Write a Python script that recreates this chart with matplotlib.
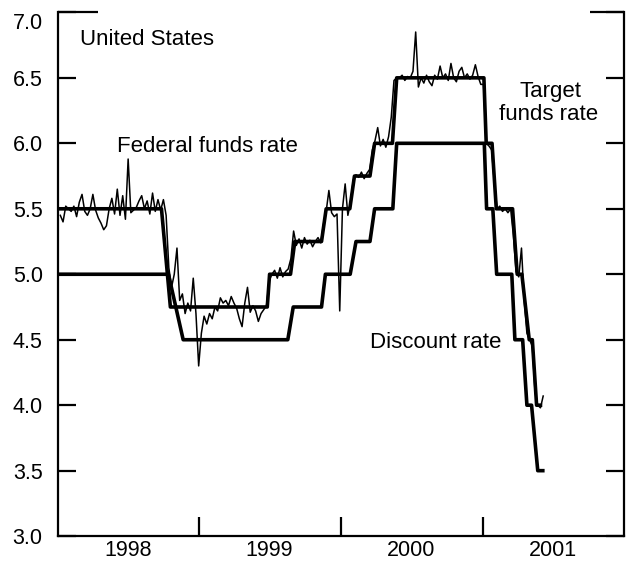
import matplotlib
matplotlib.use("Agg")
import matplotlib.pyplot as plt
import matplotlib.transforms as mtrans
import pandas as pd

plt.rcParams['font.family'] = ['Liberation Sans', 'DejaVu Sans']

# target funds rate, corner points
target_dates = ['1998-01-01', '1998-09-25', '1998-10-18', '1999-06-25', '1999-07-01',
                '1999-08-24', '1999-09-04', '1999-11-12', '1999-11-24', '2000-01-24',
                '2000-02-05', '2000-03-16', '2000-03-28', '2000-05-13', '2000-05-24',
                '2001-01-04', '2001-01-10', '2001-01-25', '2001-02-05', '2001-03-19',
                '2001-03-31', '2001-04-12', '2001-05-01', '2001-05-09', '2001-05-20',
                '2001-05-30']
target_vals = [5.5, 5.5, 4.75, 4.75, 5.0,
               5.0, 5.25, 5.25, 5.5, 5.5,
               5.75, 5.75, 6.0, 6.0, 6.5,
               6.5, 6.0, 6.0, 5.5, 5.5,
               5.0, 5.0, 4.5, 4.5, 4.0,
               4.0]

# discount rate, corner points
disc_dates = ['1998-01-01', '1998-10-13', '1998-11-20', '1999-08-17', '1999-08-31',
              '1999-11-12', '1999-11-22', '2000-01-25', '2000-02-09', '2000-03-16',
              '2000-03-28', '2000-05-14', '2000-05-24', '2001-01-05', '2001-01-11',
              '2001-01-27', '2001-02-06', '2001-03-17', '2001-03-25', '2001-04-14',
              '2001-04-25', '2001-05-07', '2001-05-23', '2001-06-05']
disc_vals = [5.0, 5.0, 4.5, 4.5, 4.75,
             4.75, 5.0, 5.0, 5.25, 5.25,
             5.5, 5.5, 6.0, 6.0, 5.5,
             5.5, 5.0, 5.0, 4.5, 4.5,
             4.0, 4.0, 3.5, 3.5]

# effective federal funds rate, weekly
ff_1998 = [5.45, 5.40, 5.52, 5.50, 5.48, 5.52, 5.44, 5.55, 5.61, 5.48,
           5.45, 5.50, 5.61, 5.49, 5.43, 5.39, 5.34, 5.37, 5.50, 5.58,
           5.46, 5.65, 5.45, 5.60, 5.42, 5.88, 5.47, 5.49, 5.51, 5.56,
           5.60, 5.50, 5.56, 5.46, 5.62, 5.48, 5.57, 5.49, 5.57, 5.45,
           5.05, 4.90, 5.00, 5.20, 4.80, 4.85, 4.70, 4.78, 4.72, 4.97,
           4.70, 4.30]
ff_1999 = [4.55, 4.68, 4.62, 4.70, 4.66, 4.75, 4.72, 4.82, 4.78, 4.80,
           4.76, 4.83, 4.78, 4.74, 4.66, 4.60, 4.78, 4.90, 4.71, 4.76,
           4.72, 4.64, 4.70, 4.73, 4.76, 4.95, 5.00, 5.03, 4.97, 5.05,
           4.98, 5.02, 5.04, 5.12, 5.33, 5.22, 5.27, 5.20, 5.28, 5.23,
           5.26, 5.21, 5.25, 5.28, 5.24, 5.38, 5.48, 5.64, 5.47, 5.44,
           5.46, 4.72]
ff_2000 = [5.50, 5.69, 5.45, 5.55, 5.72, 5.76, 5.74, 5.78, 5.73, 5.77,
           5.80, 5.95, 6.02, 6.12, 5.98, 6.03, 5.97, 6.05, 6.20, 6.48,
           6.50, 6.50, 6.52, 6.48, 6.51, 6.50, 6.55, 6.85, 6.43, 6.50,
           6.46, 6.52, 6.47, 6.44, 6.52, 6.49, 6.59, 6.50, 6.53, 6.48,
           6.61, 6.50, 6.47, 6.55, 6.58, 6.50, 6.53, 6.49, 6.52, 6.60,
           6.51, 6.45]
ff_2001 = [6.45, 6.00, 5.98, 5.95, 5.70, 5.50, 5.52, 5.48, 5.50, 5.47,
           5.50, 5.30, 5.02, 4.98, 5.20, 4.80, 4.55, 4.50, 4.45, 4.10,
           4.00, 3.98, 4.07]
ff_vals = ff_1998 + ff_1999 + ff_2000 + ff_2001
ff_dates = pd.date_range('1998-01-07', periods=len(ff_vals), freq='7D')

fig = plt.figure(figsize=(6.27, 5.62), dpi=100)
ax = fig.add_axes([0.0925, 0.046, 0.903, 0.932])

ax.plot(pd.to_datetime(disc_dates), disc_vals, color='black', lw=2.6,
        solid_joinstyle='round')
ax.plot(pd.to_datetime(target_dates), target_vals, color='black', lw=2.6,
        solid_joinstyle='round')
ax.plot(ff_dates, ff_vals, color='black', lw=1.1)

ax.set_xlim(pd.Timestamp('1998-01-01'), pd.Timestamp('2002-01-01'))
ax.set_ylim(3.0, 7.0)

# frame: top spine only near the corners
ax.spines['top'].set_visible(False)
for s in ['left', 'right', 'bottom']:
    ax.spines[s].set_linewidth(1.6)
ax.plot([0, 0.071], [1, 1], transform=ax.transAxes, color='black', lw=1.6,
        clip_on=False, solid_capstyle='butt')
ax.plot([0.94, 1.0], [1, 1], transform=ax.transAxes, color='black', lw=1.6,
        clip_on=False, solid_capstyle='butt')

ax.set_yticks([3.0, 3.5, 4.0, 4.5, 5.0, 5.5, 6.0, 6.5, 7.0])
ax.set_yticklabels(['3.0', '3.5', '4.0', '4.5', '5.0', '5.5', '6.0', '6.5', '7.0'])
ax.tick_params(axis='y', direction='in', length=13, width=1.6, right=True,
               labelsize=15.5, pad=11)
# top label sits a little below its tick
top_lab = ax.get_yticklabels()[-1]
top_lab.set_transform(top_lab.get_transform() +
                      mtrans.ScaledTranslation(0, -6 / 72, fig.dpi_scale_trans))

years = ['1998', '1999', '2000', '2001']
ax.set_xticks(pd.to_datetime(['1999-01-01', '2000-01-01', '2001-01-01']))
ax.set_xticklabels([])
ax.set_xticks(pd.to_datetime([y + '-07-01' for y in years]), minor=True)
ax.set_xticklabels(years, minor=True)
ax.tick_params(axis='x', which='major', direction='in', length=14, width=1.6)
ax.tick_params(axis='x', which='minor', length=0, labelsize=15.5, pad=3)

ax.text(0.039, 0.937, 'United States', transform=ax.transAxes, fontsize=16,
        va='baseline', ha='left')
ax.text(0.104, 0.733, 'Federal funds rate', transform=ax.transAxes, fontsize=16,
        va='baseline', ha='left')
ax.text(0.869, 0.838, 'Target', transform=ax.transAxes, fontsize=16,
        va='baseline', ha='center')
ax.text(0.866, 0.794, 'funds rate', transform=ax.transAxes, fontsize=16,
        va='baseline', ha='center')
ax.text(0.551, 0.359, 'Discount rate', transform=ax.transAxes, fontsize=16,
        va='baseline', ha='left')

fig.savefig('out.png', dpi=100)
